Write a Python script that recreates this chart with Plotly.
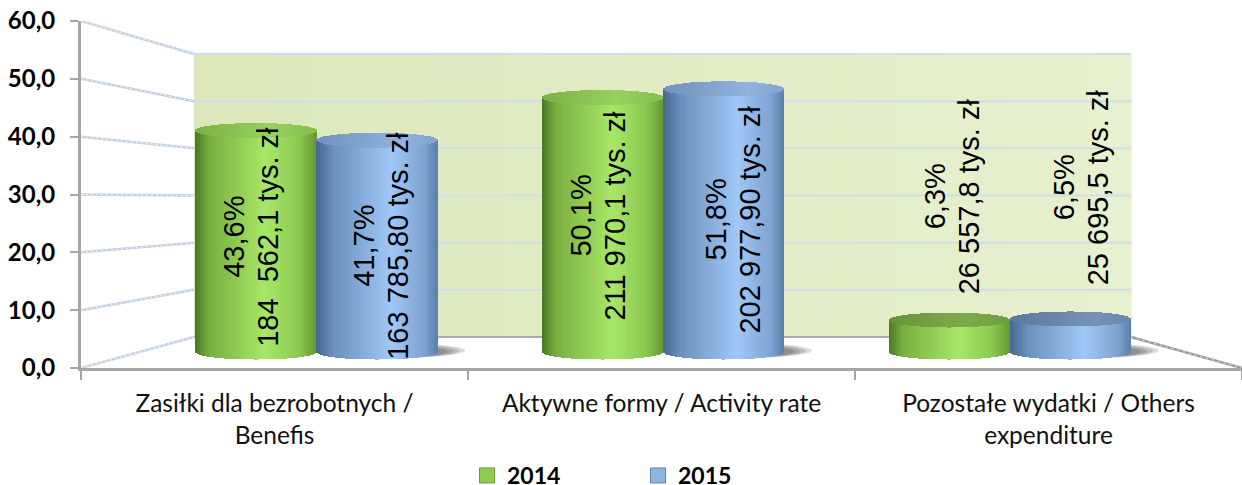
import plotly.graph_objects as go
import math

W, H = 1242, 485

categories = ["Zasiłki dla bezrobotnych /<br>Benefis", "Aktywne formy / Activity rate",
              "Pozostałe wydatki / Others<br>expenditure"]
share_2014 = [43.6, 50.1, 6.3]
share_2015 = [41.7, 51.8, 6.5]
share_labels_2014 = ["43,6%", "50,1%", "6,3%"]
share_labels_2015 = ["41,7%", "51,8%", "6,5%"]
amount_labels_2014 = ["184  562,1 tys. zł", "211 970,1 tys. zł", "26 557,8 tys. zł"]
amount_labels_2015 = ["163 785,80 tys. zł", "202 977,90 tys. zł", "25 695,5 tys. zł"]
y_ticks = [0, 10, 20, 30, 40, 50, 60]
y_tick_labels = ["0,0", "10,0", "20,0", "30,0", "40,0", "50,0", "60,0"]

# ---- layout geometry (pixels of the 3-D look)
PX_L, PX_R = 81, 1242
PX_Y0, PX_Y60 = 368, 21
BACK_L, BACK_R = 194, 1131
BACK_Y0, BACK_Y60 = 337, 54
BAR_Y0, BAR_SCALE = 352, 5.08
UX = (PX_R - PX_L) / 3
BAR_W = 121 / UX
GROUP_STEP = 0.896
GROUP_MID = 1.504
CAP_B = 7.5 / BAR_SCALE
LINE_GAP = 34

# label anchor offsets (pixels)
label_dx_2014 = [-5, -5, 3]
label_dx_2015 = [4, 9, 11]
label_cy_2014 = [237, 216, 196]
label_cy_2015 = [246, 220, 187]

GREEN = [(0, (74, 120, 36)), (.12, (122, 175, 64)), (.58, (168, 232, 104)), (.86, (140, 200, 80)), (1, (104, 152, 52))]
BLUE = [(0, (70, 102, 142)), (.15, (108, 145, 190)), (.62, (160, 200, 248)), (.9, (126, 162, 208)), (1, (92, 128, 170))]


def grad(stops, t, k=1.0):
    for (a, ca), (b, cb) in zip(stops, stops[1:]):
        if t <= b:
            f = (t - a) / (b - a)
            c = [ca[i] + (cb[i] - ca[i]) * f for i in range(3)]
            return "rgb(%d,%d,%d)" % tuple(v * k for v in c)
    return "rgb(%d,%d,%d)" % tuple(v * k for v in stops[-1][1])


def fx(px):
    return (px - PX_L) / UX


def fy(px):
    return (PX_Y0 - px) / (PX_Y0 - PX_Y60) * 60


def y2_of(px):
    return (BAR_Y0 - px) / BAR_SCALE


fig = go.Figure()
N = 70
group_x = [GROUP_MID + (i - 1) * GROUP_STEP for i in range(3)]


def cylinder(cx, v, stops, name):
    cap_k = 0.9 if v > 20 else 0.74
    xs, side_base, cap_base, cap_h, side_c, cap_c = [], [], [], [], [], []
    for j in range(N):
        t = (j + .5) / N
        u = 2 * t - 1
        s = math.sqrt(max(0, 1 - u * u))
        xs.append(cx + (t - .5) * BAR_W)
        side_base.append(-CAP_B * s)
        cap_base.append(v - CAP_B * s)
        cap_h.append(2 * CAP_B * s)
        side_c.append(grad(stops, t))
        cap_c.append(grad(stops, .3 + .45 * t, cap_k))
    w = BAR_W / N * 1.25
    fig.add_trace(go.Bar(x=xs, y=[v] * N, base=side_base, width=w, xaxis="x", yaxis="y2",
                         marker=dict(color=side_c, line_width=0), showlegend=False, hoverinfo="skip", name=name))
    fig.add_trace(go.Bar(x=xs, y=cap_h, base=cap_base, width=w, xaxis="x", yaxis="y2",
                         marker=dict(color=cap_c, line_width=0), showlegend=False, hoverinfo="skip", name=name))


shapes = []
# back wall gradient
M = 24
for i in range(M):
    f = i / (M - 1)
    col = "rgb(%d,%d,%d)" % (220 + 11 * f, 232 + 9 * f, 188 + 20 * f)
    shapes.append(dict(type="rect", layer="below", xref="x", yref="y",
                       x0=fx(BACK_L + (BACK_R - BACK_L) * i / M), x1=fx(BACK_L + (BACK_R - BACK_L) * (i + 1) / M) + .002,
                       y0=fy(BACK_Y0), y1=fy(BACK_Y60), fillcolor=col, line_width=0))

# grid lines: side wall + back wall
for v in y_ticks:
    yb = BACK_Y0 + (BACK_Y60 - BACK_Y0) * v / 60
    shapes.append(dict(type="line", layer="below", xref="x", yref="y", x0=0, x1=fx(BACK_L), y0=v, y1=fy(yb),
                       line=dict(color="#c4d0e0", width=2.5)))
    shapes.append(dict(type="line", layer="below", xref="x", yref="y", x0=0, x1=fx(BACK_L), y0=v, y1=fy(yb),
                       line=dict(color="#f4f7fa", width=1, dash="2px,3px")))
    if v > 0:
        shapes.append(dict(type="line", layer="below", xref="x", yref="y", x0=fx(BACK_L), x1=fx(BACK_R), y0=fy(yb), y1=fy(yb),
                           line=dict(color="#cfdfe6", width=2)))
# floor back edge and right diagonal
shapes.append(dict(type="line", layer="below", xref="x", yref="y", x0=fx(BACK_L), x1=fx(BACK_R), y0=fy(BACK_Y0), y1=fy(BACK_Y0),
                   line=dict(color="#a9a9a9", width=2)))
shapes.append(dict(type="line", layer="below", xref="x", yref="y", x0=fx(BACK_R), x1=3, y0=fy(BACK_Y0), y1=0,
                   line=dict(color="#9a9a9a", width=2.5)))
shapes.append(dict(type="line", layer="below", xref="x", yref="y", x0=fx(BACK_R), x1=3, y0=fy(BACK_Y0), y1=0,
                   line=dict(color="#e8e8e8", width=1, dash="2px,4px")))

# soft shadow to the right of each 2015 cylinder
for cx in group_x:
    c = cx + BAR_W / 2
    for k, grow in enumerate([28, 22, 16, 10]):
        shapes.append(dict(type="circle", layer="below", xref="x", yref="y2",
                           x0=c - BAR_W / 2, x1=c + BAR_W / 2 + grow / UX,
                           y0=y2_of(358), y1=y2_of(343 + (28 - grow) * .12),
                           fillcolor="rgba(40,40,40,0.17)", line_width=0))

annotations = []
for i, cx in enumerate(group_x):
    x14, x15 = cx - BAR_W / 2, cx + BAR_W / 2
    cylinder(x14, share_2014[i], GREEN, "2014")
    cylinder(x15, share_2015[i], BLUE, "2015")
    for xc, lab, amt, dx, cy in [(x14, share_labels_2014[i], amount_labels_2014[i], label_dx_2014[i], label_cy_2014[i]),
                                 (x15, share_labels_2015[i], amount_labels_2015[i], label_dx_2015[i], label_cy_2015[i])]:
        for txt, off in [(lab, -LINE_GAP / 2), (amt, LINE_GAP / 2)]:
            annotations.append(dict(x=xc + (dx + off) / UX, y=y2_of(cy), xref="x", yref="y2", text=txt,
                                    textangle=-90, showarrow=False, xanchor="center", yanchor="middle",
                                    font=dict(family="Liberation Sans", size=29, color="#000000")))

# legend entries
for nm, col, edge in [("2014", "#8fcb50", "#6a9a35"), ("2015", "#8fb4e2", "#5f82ac")]:
    fig.add_trace(go.Scatter(x=[None], y=[None], mode="markers", name=nm,
                             marker=dict(symbol="square", size=15, color=col, line=dict(color=edge, width=1))))

fig.update_layout(
    width=W, height=H, autosize=False, margin=dict(l=0, r=0, t=0, b=0, autoexpand=False),
    paper_bgcolor="#ffffff", plot_bgcolor="rgba(0,0,0,0)", barmode="overlay", bargap=0,
    shapes=shapes, annotations=annotations,
    font=dict(family="Lato", color="#000000"),
    xaxis=dict(domain=[PX_L / W, PX_R / W], range=[0, 3], tickvals=[.5, 1.5, 2.5], ticktext=categories,
               ticks="", showgrid=False, zeroline=False, showline=True, linecolor="#a6a6a6", linewidth=3,
               tickfont=dict(family="Lato", size=24.5, color="#111111"), ticklabelposition="outside",
               ticklabelstandoff=12,
               minor=dict(tickvals=[0, 1, 2, 3], ticks="outside", ticklen=9, tickwidth=2, tickcolor="#a6a6a6")),
    yaxis=dict(domain=[(H - PX_Y0) / H, (H - PX_Y60) / H], range=[0, 60], tickvals=y_ticks, ticktext=y_tick_labels,
               ticks="outside", ticklen=8, tickwidth=2, tickcolor="#a6a6a6", showgrid=False, zeroline=False,
               showline=True, linecolor="#a6a6a6", linewidth=3, ticklabelstandoff=10,
               tickfont=dict(family="Lato", size=24, weight="bold", color="#000000")),
    yaxis2=dict(domain=[(H - PX_Y0) / H, (H - PX_Y60) / H], overlaying="y", visible=False,
                range=[y2_of(PX_Y0), y2_of(PX_Y60)]),
    legend=dict(orientation="h", x=467 / W, y=(H - 454) / H, xanchor="left", yanchor="top",
                entrywidth=126, entrywidthmode="pixels", font=dict(family="Lato", size=23, weight="bold"),
                itemsizing="trace", bgcolor="rgba(0,0,0,0)", tracegroupgap=0),
)
fig.write_html("out.html", config=dict(displayModeBar=False),
               post_script="document.body.style.margin='0';document.documentElement.style.overflow='hidden';")
